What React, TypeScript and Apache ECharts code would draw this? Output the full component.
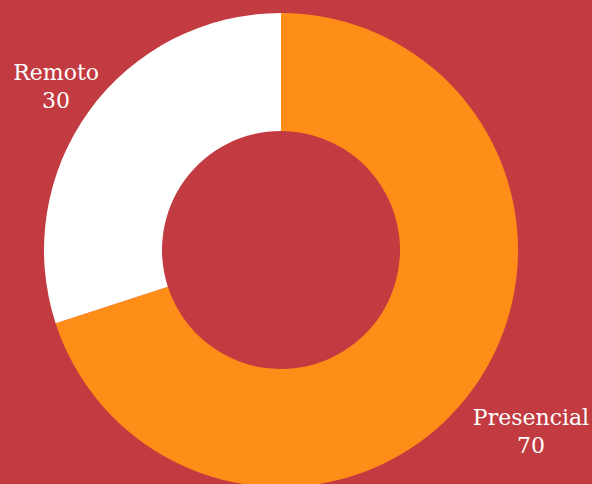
import React, { useEffect, useRef } from "react";
import * as echarts from "echarts";

const categories = ["Presencial", "Remoto"];
const values = [70, 30];
const colors = ["#ff8e19", "#ffffff"];

const BG = "#c23b41";
const CX = 281;
const CY = 250;
const R_IN = 119;
const R_OUT = 237;
const LABEL_R = [309, 278];

export default function App() {
  const ref = useRef<HTMLDivElement>(null);
  useEffect(() => {
    document.body.style.margin = "0";
    const chart = echarts.init(ref.current!, null, { renderer: "svg" });
    const total = values.reduce((a, b) => a + b, 0);
    const midAngle = (i: number) => {
      let before = 0;
      for (let k = 0; k < i; k++) before += values[k];
      const frac = (before + values[i] / 2) / total;
      return Math.PI / 2 - 2 * Math.PI * frac;
    };
    chart.setOption({
      animation: false,
      backgroundColor: BG,
      series: [
        {
          type: "pie",
          center: [CX, CY],
          radius: [R_IN, R_OUT],
          startAngle: 90,
          clockwise: true,
          avoidLabelOverlap: false,
          itemStyle: { borderWidth: 0 },
          label: {
            show: true,
            position: "outside",
            formatter: "{b}\n{c}",
            color: "#ffffff",
            fontFamily: "DejaVu Serif",
            fontSize: 22,
            lineHeight: 28,
            align: "center",
          },
          labelLine: { show: false },
          labelLayout: (p: any) => {
            const i = p.dataIndex;
            const a = midAngle(i);
            return {
              x: CX + LABEL_R[i] * Math.cos(a),
              y: CY - LABEL_R[i] * Math.sin(a),
              align: "center",
              verticalAlign: "middle",
            };
          },
          emphasis: { disabled: true },
          data: categories.map((name, i) => ({
            name,
            value: values[i],
            itemStyle: { color: colors[i] },
          })),
        },
      ],
    });
    return () => chart.dispose();
  }, []);
  return (
    <div
      ref={ref}
      style={{ position: "fixed", left: 0, top: 0, width: 592, height: 484 }}
    />
  );
}
